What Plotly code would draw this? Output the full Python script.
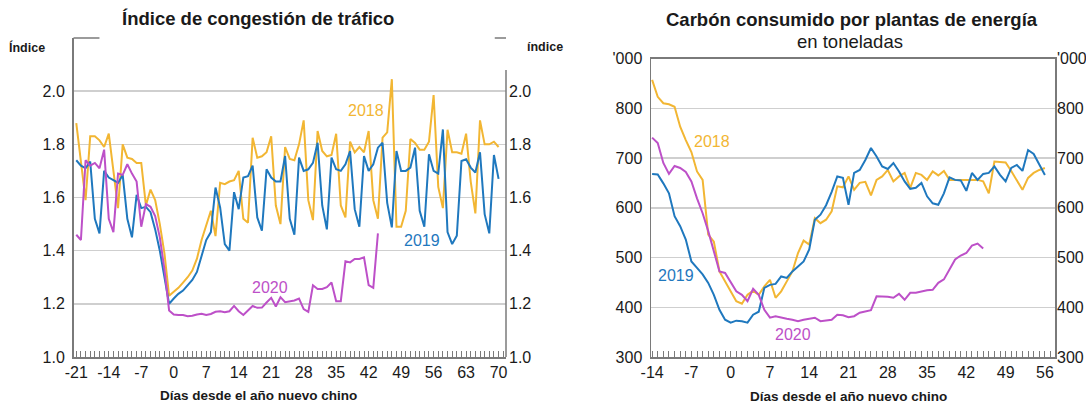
import plotly.graph_objects as go

# ---------------- data ----------------
days_traffic = list(range(-21, 71))
days_traffic_2020 = list(range(-21, 45))
traffic_2018 = [1.88, 1.74, 1.59, 1.83, 1.83, 1.815, 1.79, 1.84, 1.69, 1.56, 1.80, 1.75, 1.745, 1.73, 1.73,
                1.57, 1.63, 1.59, 1.50, 1.39, 1.23,
                1.245, 1.26, 1.28, 1.30, 1.325, 1.37, 1.44, 1.50, 1.55, 1.455, 1.655, 1.65, 1.66, 1.665,
                1.70, 1.52, 1.505,
                1.825, 1.75, 1.755, 1.77, 1.83, 1.57, 1.50, 1.79, 1.745, 1.74, 1.80, 1.89, 1.59, 1.515,
                1.85, 1.775, 1.755, 1.76, 1.84, 1.57, 1.525, 1.81, 1.77, 1.79, 1.77, 1.85, 1.59, 1.52,
                1.825, 1.845, 2.045, 1.49, 1.49, 1.55, 1.82, 1.805, 1.78, 1.78, 1.81, 1.985, 1.64, 1.56,
                1.855, 1.77, 1.77, 1.765, 1.84, 1.66, 1.54, 1.89, 1.80, 1.80, 1.81, 1.79]
traffic_2019 = [1.74, 1.72, 1.71, 1.735, 1.52, 1.465, 1.70, 1.675, 1.665, 1.655, 1.685, 1.52, 1.45, 1.61,
                1.56, 1.565, 1.545, 1.48, 1.40, 1.30, 1.20,
                1.22, 1.2375, 1.25, 1.27, 1.29, 1.32, 1.38,
                1.44, 1.47, 1.6375, 1.5625, 1.425, 1.40, 1.62, 1.556, 1.675, 1.68, 1.72, 1.525, 1.475,
                1.706, 1.675, 1.66, 1.66, 1.756, 1.52, 1.46, 1.75, 1.70, 1.706, 1.73, 1.806, 1.57, 1.48,
                1.75, 1.706, 1.70, 1.725, 1.775,
                1.556, 1.49, 1.756, 1.70, 1.725, 1.7875, 1.806, 1.58, 1.4875, 1.775, 1.70, 1.70, 1.7125,
                1.7875, 1.55, 1.49, 1.7625, 1.70, 1.69, 1.856, 1.47, 1.425, 1.456, 1.7375, 1.744, 1.7125,
                1.694, 1.77, 1.5375, 1.465, 1.76, 1.67]
traffic_2020 = [1.46, 1.44, 1.74, 1.72, 1.73, 1.71, 1.78, 1.52, 1.47, 1.69, 1.685, 1.725, 1.69, 1.66, 1.49,
                1.575, 1.565, 1.53, 1.45, 1.33, 1.175,
                1.16, 1.158, 1.158, 1.153, 1.155, 1.16, 1.163, 1.158, 1.162, 1.17, 1.172, 1.168, 1.172,
                1.192, 1.172, 1.158, 1.175, 1.192, 1.185, 1.186, 1.205,
                1.2225, 1.19, 1.225, 1.206, 1.209, 1.2125, 1.22, 1.18, 1.17, 1.27, 1.256, 1.256, 1.2625,
                1.28, 1.21, 1.21, 1.36, 1.356, 1.369, 1.369, 1.375, 1.27, 1.26, 1.465]

days_coal = list(range(-14, 57))
days_coal_2020 = list(range(-14, 46))
coal_2018 = [857, 823, 810, 808, 803, 763, 736, 712, 673, 656, 546, 532, 472, 452, 429, 412, 407, 425, 433,
             425, 442, 455, 419, 432, 452, 472, 509, 534, 526, 579, 569, 576, 593, 643, 641, 663, 636, 650,
             652, 625, 656, 663, 676, 653, 663, 670, 640, 670, 666, 656, 673, 665, 674, 656, 656, 656, 656,
             656, 656, 653, 629, 693, 692, 691, 674, 656, 636, 660, 670, 676, 680]
coal_2019 = [668, 667, 649, 629, 583, 563, 536, 492, 479, 466, 449, 425, 395, 375, 369, 373, 372, 369, 385,
             391, 439, 445, 447, 462, 459, 472, 482, 492, 516, 576, 586, 605, 632, 663, 660, 606, 670, 676,
             696, 720, 703, 683, 678, 690, 673, 653, 638, 640, 650, 623, 609, 606, 629, 661, 656, 655, 634,
             670, 656, 668, 670, 683, 666, 653, 680, 686, 674, 716, 708, 686, 666]
coal_2020 = [741, 730, 690, 668, 684, 680, 672, 653, 619, 589, 553, 512, 472, 469, 449, 432, 425, 412, 437,
             425, 395, 379, 382, 379, 377, 375, 372, 375, 377, 379, 372, 373, 375, 385, 384, 380, 382, 389,
             391, 394, 422, 422, 421, 419, 427, 415, 429, 429, 432, 434, 435, 449, 456, 476, 496, 504, 509,
             524, 528, 518]

traffic_ticks = [1.0, 1.2, 1.4, 1.6, 1.8, 2.0]
traffic_ticktext = ["1.0", "1.2", "1.4", "1.6", "1.8", "2.0"]
coal_ticks = [300, 400, 500, 600, 700, 800, 900]
coal_ticktext = ["300", "400", "500", "600", "700", "800", "'000"]
traffic_xticks = list(range(-21, 71, 7))
coal_xticks = list(range(-14, 57, 7))

C2018, C2019, C2020 = "#F2B633", "#1F78BE", "#BD50C8"
GRID, AXIS, TXT = "#cfcfcf", "#7a7a7a", "#1a1a1a"
FONT = "Liberation Sans, Arial, sans-serif"

W, H = 1086, 407
def px(x): return x / W
def py(y): return 1 - y / H

fig = go.Figure()
line_w = 2
for d, v, c in [(days_traffic, traffic_2018, C2018), (days_traffic, traffic_2019, C2019),
                (days_traffic_2020, traffic_2020, C2020)]:
    fig.add_trace(go.Scatter(x=d, y=v, mode="lines", line=dict(color=c, width=line_w),
                             xaxis="x", yaxis="y", showlegend=False))
fig.add_trace(go.Scatter(x=[], y=[], xaxis="x", yaxis="y2", showlegend=False))
for d, v, c in [(days_coal, coal_2018, C2018), (days_coal, coal_2019, C2019),
                (days_coal_2020, coal_2020, C2020)]:
    fig.add_trace(go.Scatter(x=d, y=v, mode="lines", line=dict(color=c, width=line_w),
                             xaxis="x2", yaxis="y3", showlegend=False))
fig.add_trace(go.Scatter(x=[], y=[], xaxis="x2", yaxis="y4", showlegend=False))

L_X0, L_X1, L_Y0, L_Y1 = 73.5, 506, 38, 357
R_X0, R_X1, R_Y0, R_Y1 = 651, 1055, 58.5, 357

tickfont = dict(family=FONT, size=16, color=TXT)
def xax(dom, rng, ticks, anchor, mirror=False):
    return dict(domain=dom, range=rng, anchor=anchor, tickmode="array", tickvals=ticks,
                ticktext=[str(t) for t in ticks], ticks="inside", ticklen=6, tickwidth=1,
                tickcolor=AXIS, showline=True, linecolor=AXIS, linewidth=1.5, showgrid=False,
                zeroline=False, tickfont=tickfont, automargin=False, mirror=mirror,
                minor=dict(tickmode="linear", tick0=0, dtick=1, ticks="inside", ticklen=6,
                           tickwidth=1, tickcolor=AXIS, showgrid=False))

fig.update_layout(
    width=W, height=H, margin=dict(l=0, r=0, t=0, b=0, autoexpand=False),
    paper_bgcolor="white", plot_bgcolor="white", hovermode=False, showlegend=False,
    font=dict(family=FONT, color=TXT),
    xaxis=xax([px(L_X0), px(L_X1)], [-21.6, 71.6], traffic_xticks, "y"),
    xaxis2=xax([px(R_X0), px(R_X1)], [-14.2, 57.8], coal_xticks, "y3", mirror=True),
    yaxis=dict(domain=[py(L_Y1), py(L_Y0)], range=[1.0, 2.2], anchor="x", tickmode="array",
               tickvals=traffic_ticks, ticktext=traffic_ticktext, showgrid=True, gridcolor=GRID,
               gridwidth=1.5, showline=True, linecolor=AXIS, linewidth=1.5, ticks="",
               zeroline=False, tickfont=tickfont, ticklabelstandoff=4, automargin=False),
    yaxis2=dict(overlaying="y", side="right", anchor="x", range=[1.0, 2.2], tickmode="array",
                tickvals=traffic_ticks, ticktext=traffic_ticktext, showgrid=False, showline=False,
                ticks="", zeroline=False, tickfont=tickfont, ticklabelstandoff=2, automargin=False),
    yaxis3=dict(domain=[py(R_Y1), py(R_Y0)], range=[300, 900], anchor="x2", tickmode="array",
                tickvals=coal_ticks, ticktext=coal_ticktext, showgrid=True, gridcolor=GRID,
                gridwidth=1.5, showline=True, linecolor=AXIS, linewidth=1.5, mirror=True, ticks="",
                zeroline=False, tickfont=tickfont, ticklabelstandoff=4, automargin=False),
    yaxis4=dict(overlaying="y3", side="right", anchor="x2", range=[300, 900], tickmode="array",
                tickvals=coal_ticks, ticktext=coal_ticktext, showgrid=False, showline=False,
                ticks="", zeroline=False, tickfont=tickfont, ticklabelstandoff=1, automargin=False),
)

# partial frame of the left chart
fig.add_shape(type="line", xref="x domain", yref="y", x0=1, x1=1, y0=1.0, y1=2.08,
              line=dict(color=AXIS, width=1.5))
fig.add_shape(type="line", xref="x domain", yref="y domain", x0=0, x1=0.06, y0=1, y1=1,
              line=dict(color=AXIS, width=1.5))
fig.add_shape(type="line", xref="x domain", yref="y domain", x0=0.974, x1=1, y0=1, y1=1,
              line=dict(color=AXIS, width=1.5))

def ann(text, x, y, size, color=TXT, bold=False):
    t = f"<b>{text}</b>" if bold else text
    fig.add_annotation(text=t, x=px(x), y=py(y), xref="paper", yref="paper", showarrow=False,
                       xanchor="center", yanchor="middle",
                       font=dict(family=FONT, size=size, color=color))

ann("Índice de congestión de tráfico", 258, 18, 18.5, bold=True)
ann("Índice", 27, 47, 12.5, bold=True)
ann("índice", 545, 47, 12.5, bold=True)
ann("Días desde el año nuevo chino", 258, 395, 13.5, bold=True)
ann("Carbón consumido por plantas de energía", 852, 20, 18.5, bold=True)
ann("en toneladas", 850, 42, 18.5)
ann("Días desde el año nuevo chino", 848, 396, 13.5, bold=True)

ann("2018", 366, 110, 16, C2018)
ann("2019", 422, 240, 16, C2019)
ann("2020", 270, 287, 16, C2020)
ann("2018", 712, 141, 16, C2018)
ann("2019", 676, 275, 16, C2019)
ann("2020", 793, 334, 16, C2020)

fig.write_html("out.html", config={"displayModeBar": False, "staticPlot": True},
               post_script="document.body.style.margin='0';document.body.style.padding='0';"
                           "document.body.style.overflow='hidden';")
